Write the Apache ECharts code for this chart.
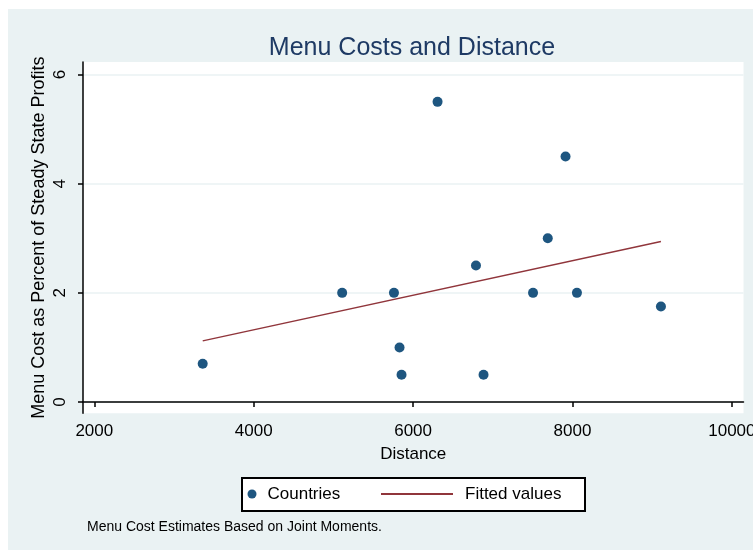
<!DOCTYPE html>
<html>
<head>
<meta charset="utf-8">
<script src="https://cdn.jsdelivr.net/npm/echarts@6/dist/echarts.min.js"></script>
<style>
  html, body { margin: 0; padding: 0; background: #fff; }
  #menu-cost-chart {
    position: absolute;
    left: 8px;
    top: 9px;
    width: 745px;
    height: 541px;
  }
</style>
</head>
<body>
<div id="menu-cost-chart"></div>
<script>
// countries: distance vs menu cost
const distance = [3360, 5110, 5760, 5830, 5855, 6307, 6789, 6884, 7505, 7690, 7913, 8056, 9110]
const menuCost = [0.7, 2, 2, 1, 0.5, 5.5, 2.5, 0.5, 2, 3, 4.5, 2, 1.75]
// fitted line end points
const fittedX = [3360, 9110]
const fittedY = [1.12, 2.94]
// ticks
const xTicks = [2000, 4000, 6000, 8000, 10000]
const yTicks = [0, 2, 4, 6]

const font = 'Liberation Sans'
const navy = '#1e5680'
const maroon = '#90353b'
const mint = '#eaf2f3'

let myChart = echarts.init(document.getElementById('menu-cost-chart'))
let option = {
  backgroundColor: mint,
  textStyle: { fontFamily: font },
  title: [
    {
      text: 'Menu Costs and Distance',
      left: 404,
      top: 27,
      textAlign: 'center',
      padding: 0,
      textStyle: { color: '#1e3a64', fontSize: 25, fontWeight: 'normal', fontFamily: font }
    },
    {
      text: 'Menu Cost Estimates Based on Joint Moments.',
      left: 79,
      top: 511,
      padding: 0,
      textStyle: { color: '#000', fontSize: 14, fontWeight: 'normal', fontFamily: font }
    }
  ],
  graphic: [
    {
      type: 'rect',
      left: 233,
      top: 468,
      shape: { width: 343, height: 33 },
      style: { fill: '#fff', stroke: '#000', lineWidth: 2 },
      z: 0
    }
  ],
  legend: [
    {
      data: ['Countries'],
      left: 239.5,
      top: 476.5,
      padding: 0,
      itemWidth: 9,
      itemHeight: 9,
      icon: 'circle',
      textStyle: { color: '#000', fontSize: 17, padding: [0, 0, 0, 6] },
      z: 5
    },
    {
      data: ['Fitted values'],
      left: 373,
      top: 476.5,
      padding: 0,
      itemWidth: 72,
      itemHeight: 2,
      icon: 'rect',
      textStyle: { color: '#000', fontSize: 17, padding: [0, 0, 0, 7] },
      z: 5
    }
  ],
  grid: {
    left: 75,
    right: 9.5,
    top: 53,
    bottom: 136.7,
    outerBoundsMode: 'none',
    containLabel: false,
    show: true,
    backgroundColor: '#fff',
    borderWidth: 0
  },
  xAxis: {
    type: 'value',
    min: 1858,
    max: 10146,
    name: 'Distance',
    nameLocation: 'middle',
    nameGap: 33,
    nameMoveOverlap: false,
    nameTextStyle: { color: '#000', fontSize: 17 },
    axisLine: { show: true, lineStyle: { color: '#000', width: 1.5 } },
    axisTick: { show: true, length: 5, customValues: xTicks, lineStyle: { color: '#000', width: 1.5 } },
    axisLabel: { customValues: xTicks, color: '#000', fontSize: 17, margin: 10, formatter: v => String(v) },
    splitLine: { show: false }
  },
  yAxis: {
    type: 'value',
    min: -0.207,
    max: 6.23,
    name: 'Menu Cost as Percent of Steady State Profits',
    nameLocation: 'middle',
    nameGap: 35,
    nameMoveOverlap: false,
    nameTextStyle: { color: '#000', fontSize: 18 },
    axisLine: { show: true, lineStyle: { color: '#000', width: 1.5 } },
    axisTick: { show: true, length: 5, customValues: yTicks, lineStyle: { color: '#000', width: 1.5 } },
    axisLabel: { customValues: yTicks, color: '#000', fontSize: 17, rotate: 90, margin: 14, formatter: v => String(v) },
    splitLine: { show: true, lineStyle: { color: mint, width: 1.5 } }
  },
  series: [
    {
      name: 'Countries',
      type: 'scatter',
      symbolSize: 10,
      itemStyle: { color: navy, opacity: 1 },
      data: distance.map((d, i) => [d, menuCost[i]])
    },
    {
      name: 'Fitted values',
      type: 'line',
      symbol: 'none',
      lineStyle: { color: maroon, width: 1.5 },
      itemStyle: { color: maroon },
      data: fittedX.map((d, i) => [d, fittedY[i]])
    }
  ]
}
myChart.setOption(option)
</script>
</body>
</html>
